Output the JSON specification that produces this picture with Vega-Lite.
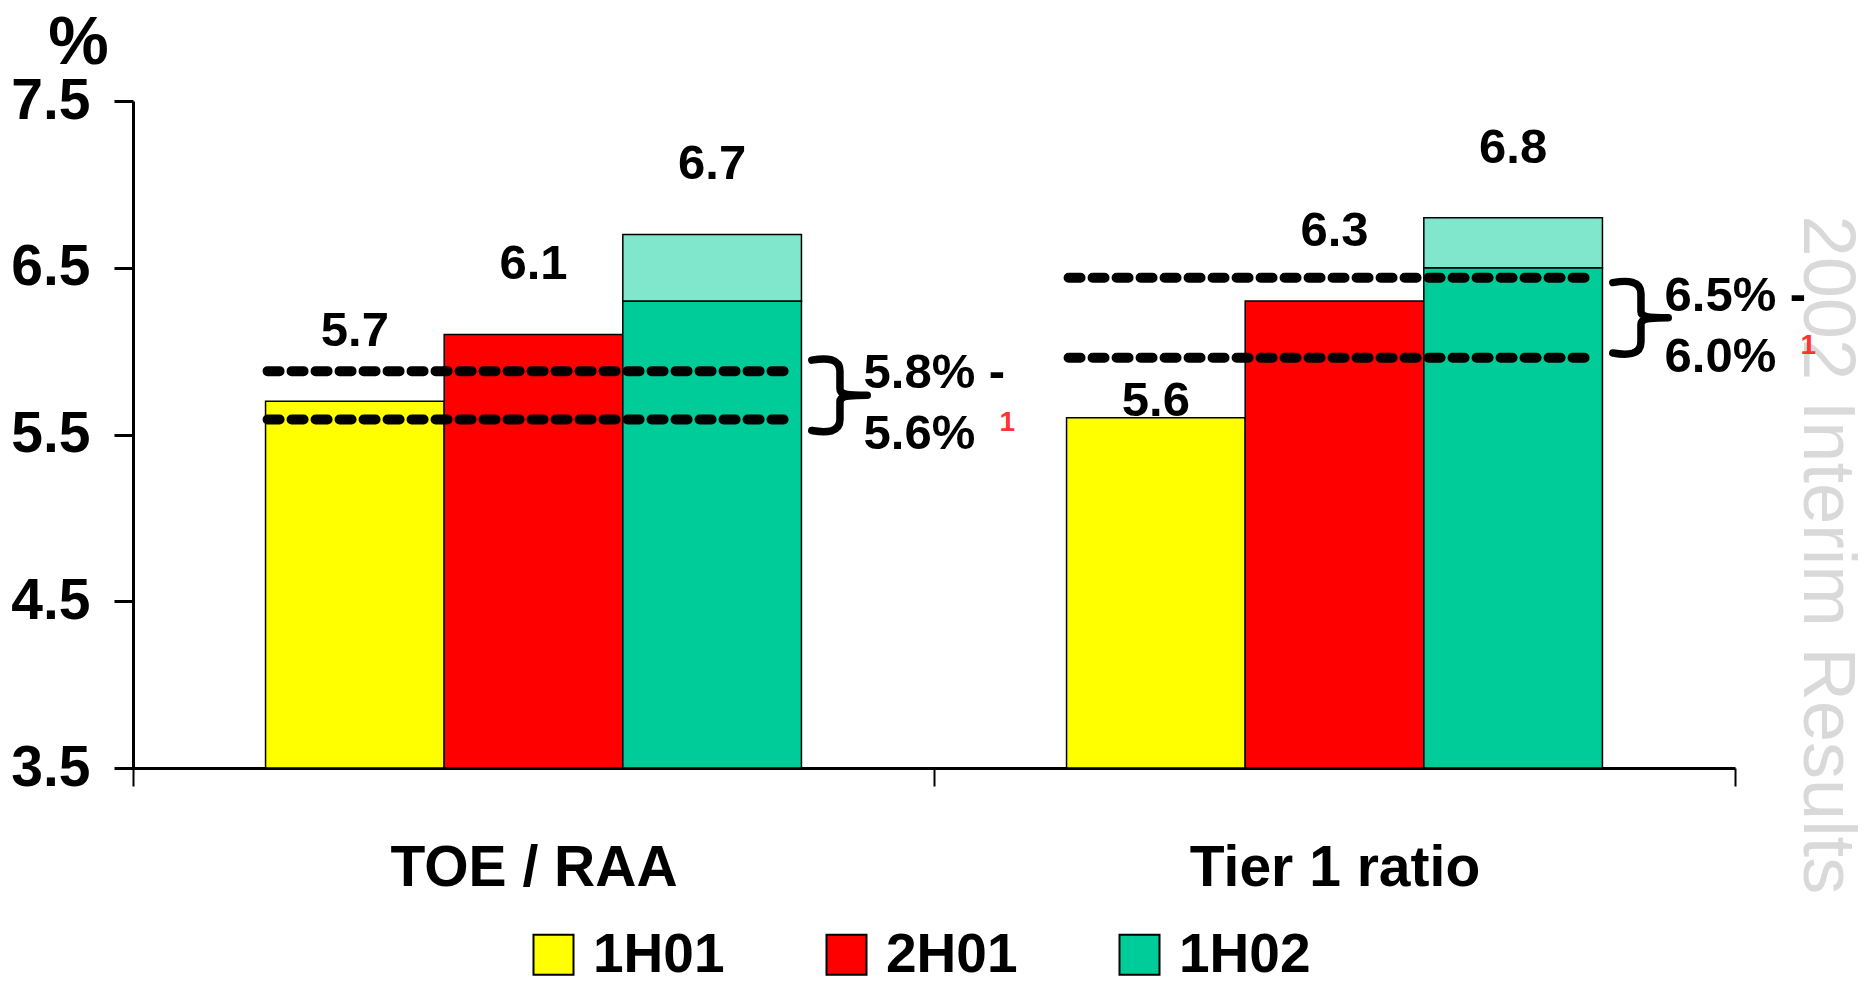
{
  "$schema": "https://vega.github.io/schema/vega-lite/v6.json",
  "width": 1602,
  "height": 667,
  "autosize": {"type": "none"},
  "padding": {"left": 133, "top": 101, "right": 135, "bottom": 218},
  "background": "white",
  "config": {"view": {"stroke": null}, "axis": {"grid": false}},
  "datasets": {
    "bars": [
      {"category": "TOE / RAA", "period": "1H01", "value": 5.7, "total": 5.7},
      {"category": "TOE / RAA", "period": "2H01", "value": 6.1, "total": 6.1},
      {"category": "TOE / RAA", "period": "1H02", "value": 6.3, "total": 6.7},
      {"category": "Tier 1 ratio", "period": "1H01", "value": 5.6, "total": 5.6},
      {"category": "Tier 1 ratio", "period": "2H01", "value": 6.3, "total": 6.3},
      {"category": "Tier 1 ratio", "period": "1H02", "value": 6.5, "total": 6.8}
    ],
    "targets": [
      {"category": "TOE / RAA", "level": 5.88},
      {"category": "TOE / RAA", "level": 5.59},
      {"category": "Tier 1 ratio", "level": 6.44},
      {"category": "Tier 1 ratio", "level": 5.96}
    ],
    "ranges": [
      {"category": "TOE / RAA", "mid": 5.735, "label": "5.8% -\n5.6%", "note": "1"},
      {"category": "Tier 1 ratio", "mid": 6.2, "label": "6.5% -\n6.0%", "note": "1"}
    ]
  },
  "resolve": {"axis": {"y": "independent"}},
  "layer": [
    {
      "data": {"name": "bars"},
      "mark": {"type": "bar", "stroke": "black", "strokeWidth": 1.5},
      "encoding": {
        "x": {
          "field": "category", "type": "nominal", "title": null,
          "scale": {"domain": ["TOE / RAA", "Tier 1 ratio"], "paddingInner": 0, "paddingOuter": 0},
          "axis": {
            "title": null, "tickBand": "extent", "labelAngle": 0, "labelLimit": 0,
            "labelFont": "Liberation Sans", "labelFontWeight": "bold", "labelFontSize": 57,
            "labelColor": "black", "labelPadding": 54,
            "tickSize": 18, "tickWidth": 2, "tickColor": "black",
            "domainColor": "black", "domainWidth": 3
          }
        },
        "xOffset": {
          "field": "period", "type": "nominal",
          "scale": {"domain": ["1H01", "2H01", "1H02"], "paddingInner": 0, "paddingOuter": 0.742}
        },
        "y": {
          "field": "value", "type": "quantitative",
          "scale": {"domain": [3.5, 7.5], "nice": false, "zero": false},
          "axis": {
            "title": "%", "titleAngle": 0, "titleFont": "Liberation Sans", "titleFontWeight": "bold",
            "titleFontSize": 68, "titleAlign": "center", "titleBaseline": "alphabetic",
            "titleX": -55, "titleY": -38, "titleColor": "black",
            "values": [3.5, 4.5, 5.5, 6.5, 7.5], "format": ".1f",
            "labelFont": "Liberation Sans", "labelFontWeight": "bold", "labelFontSize": 57,
            "labelColor": "black", "labelPadding": 24,
            "tickSize": 19, "tickWidth": 3, "tickColor": "black",
            "domainColor": "black", "domainWidth": 3, "grid": false
          }
        },
        "y2": {"datum": 3.5},
        "color": {
          "field": "period", "type": "nominal",
          "scale": {"domain": ["1H01", "2H01", "1H02"], "range": ["#ffff00", "#ff0000", "#00cc99"]},
          "legend": {
            "orient": "none", "legendX": 393, "legendY": 826, "direction": "horizontal", "title": null,
            "symbolType": "square", "symbolSize": 1600, "symbolStrokeColor": "black", "symbolStrokeWidth": 2,
            "symbolOpacity": 1,
            "labelFont": "Liberation Sans", "labelFontWeight": "bold", "labelFontSize": 55,
            "labelColor": "black", "labelOffset": 12, "labelLimit": 400, "columnPadding": 94
          }
        }
      }
    },
    {
      "data": {"name": "bars"},
      "transform": [{"filter": "datum.period === '1H02'"}],
      "mark": {"type": "bar", "fill": "#80e6cc", "stroke": "black", "strokeWidth": 1.5},
      "encoding": {
        "x": {"field": "category", "type": "nominal", "title": null},
        "xOffset": {"field": "period", "type": "nominal"},
        "y": {
          "field": "total", "type": "quantitative",
          "axis": {
            "orient": "right", "domain": false, "ticks": false, "labels": false, "grid": false,
            "title": "2002 Interim Results", "titleAngle": 90, "titleX": 68, "titleY": 114,
            "titleAlign": "left", "titleBaseline": "alphabetic",
            "titleFont": "Liberation Sans", "titleFontWeight": "normal", "titleFontSize": 74,
            "titleColor": "#d9d9d9"
          }
        },
        "y2": {"field": "value"}
      }
    },
    {
      "data": {"name": "targets"},
      "mark": {"type": "rule", "color": "black", "strokeWidth": 10, "strokeCap": "round", "strokeDash": [12, 12]},
      "encoding": {
        "x": {"field": "category", "type": "nominal", "title": null, "bandPosition": 0.168},
        "x2": {"field": "category", "bandPosition": 0.823},
        "y": {"field": "level", "type": "quantitative", "axis": null}
      }
    },
    {
      "data": {"name": "bars"},
      "transform": [{"filter": "!(datum.category === 'Tier 1 ratio' && datum.period === '1H01')"}],
      "mark": {
        "type": "text", "align": "center", "baseline": "alphabetic", "dy": -55, "color": "black",
        "font": "Liberation Sans", "fontWeight": "bold", "fontSize": 49
      },
      "encoding": {
        "x": {"field": "category", "type": "nominal", "title": null},
        "xOffset": {"field": "period", "type": "nominal"},
        "y": {"field": "total", "type": "quantitative", "axis": null},
        "text": {"field": "total", "type": "quantitative", "format": ".1f"}
      }
    },
    {
      "data": {"name": "bars"},
      "transform": [{"filter": "datum.category === 'Tier 1 ratio' && datum.period === '1H01'"}],
      "mark": {
        "type": "text", "align": "center", "baseline": "alphabetic", "dy": -2, "color": "black",
        "font": "Liberation Sans", "fontWeight": "bold", "fontSize": 49
      },
      "encoding": {
        "x": {"field": "category", "type": "nominal", "title": null},
        "xOffset": {"field": "period", "type": "nominal"},
        "y": {"field": "total", "type": "quantitative", "axis": null},
        "text": {"field": "total", "type": "quantitative", "format": ".1f"}
      }
    },
    {
      "data": {"name": "ranges"},
      "mark": {
        "type": "point", "filled": false, "opacity": 1, "stroke": "black", "strokeWidth": 7.5,
        "strokeCap": "round", "strokeJoin": "round", "size": 7744,
        "shape": "M -0.64 -0.8 C -0.3 -0.86 0 -0.84 0 -0.55 L 0 -0.15 C 0 -0.02 0.15 0 0.62 0 M 0.62 0 C 0.15 0 0 0.02 0 0.15 L 0 0.55 C 0 0.84 -0.3 0.86 -0.64 0.8"
      },
      "encoding": {
        "x": {"field": "category", "type": "nominal", "title": null, "bandPosition": 0.8826},
        "y": {"field": "mid", "type": "quantitative", "axis": null}
      }
    },
    {
      "data": {"name": "ranges"},
      "mark": {
        "type": "text", "align": "left", "baseline": "middle", "lineBreak": "\n", "lineHeight": 61,
        "dy": -22, "color": "black", "font": "Liberation Sans", "fontWeight": "bold", "fontSize": 49
      },
      "encoding": {
        "x": {"field": "category", "type": "nominal", "title": null, "bandPosition": 0.912},
        "y": {"field": "mid", "type": "quantitative", "axis": null},
        "text": {"field": "label", "type": "nominal"}
      }
    },
    {
      "data": {"name": "ranges"},
      "mark": {
        "type": "text", "align": "left", "baseline": "middle", "dx": 136, "dy": 28,
        "color": "#ff3333", "font": "Liberation Sans", "fontWeight": "bold", "fontSize": 28
      },
      "encoding": {
        "x": {"field": "category", "type": "nominal", "title": null, "bandPosition": 0.912},
        "y": {"field": "mid", "type": "quantitative", "axis": null},
        "text": {"field": "note", "type": "nominal"}
      }
    }
  ]
}
